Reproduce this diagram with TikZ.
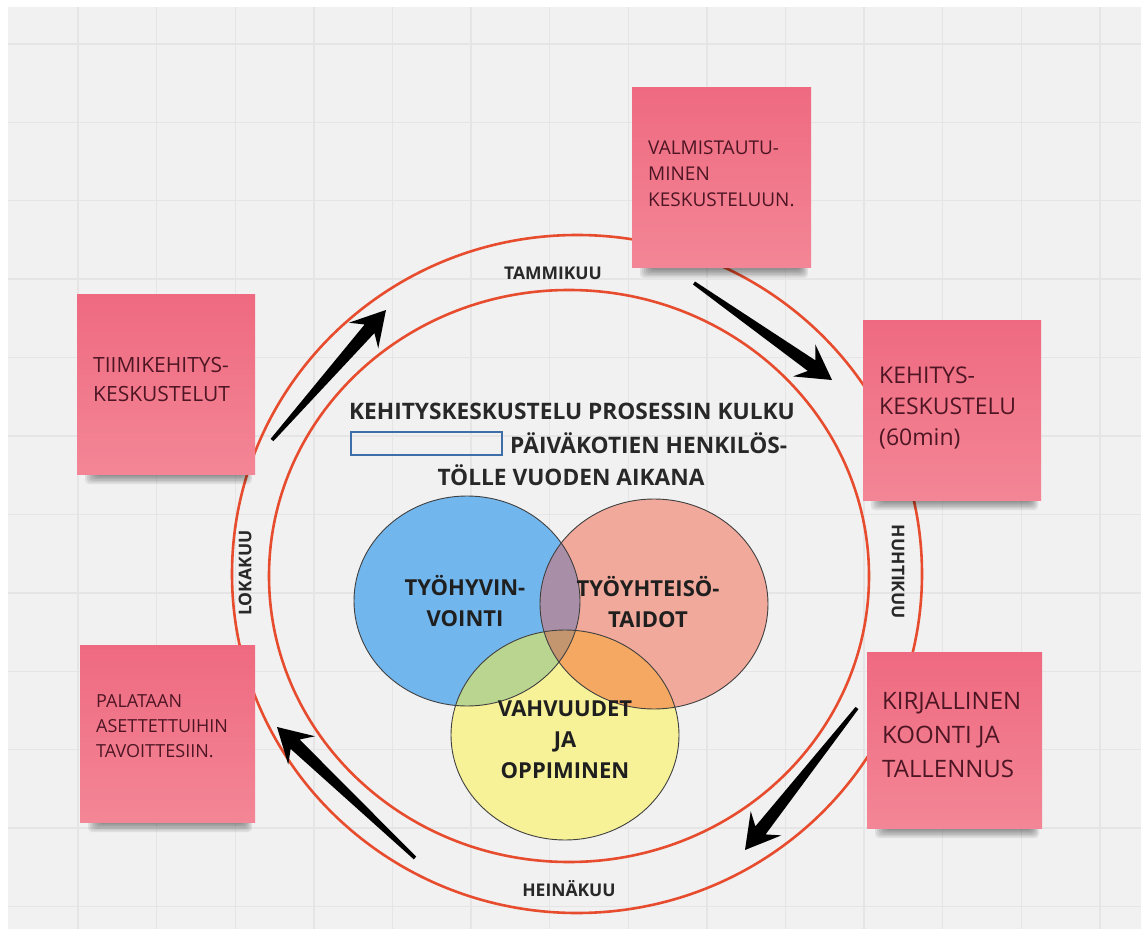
\documentclass[tikz,border=0pt]{standalone}
\usepackage{fontspec}
\setmainfont{Open Sans}
\usetikzlibrary{calc}
\definecolor{bgc}{RGB}{241,241,241}
\definecolor{gridc}{RGB}{229,229,229}
\definecolor{ringc}{RGB}{230,76,45}
\definecolor{notetop}{RGB}{239,106,128}
\definecolor{notebot}{RGB}{243,134,150}
\definecolor{notetext}{RGB}{78,22,36}
\definecolor{titletext}{RGB}{40,40,40}
\definecolor{vblue}{RGB}{114,182,238}
\definecolor{vred}{RGB}{240,169,155}
\definecolor{vyellow}{RGB}{247,241,151}
\definecolor{vbr}{RGB}{169,142,168}
\definecolor{vby}{RGB}{185,213,144}
\definecolor{vry}{RGB}{244,168,98}
\definecolor{vall}{RGB}{196,150,112}
\definecolor{boxblue}{RGB}{62,110,168}
\newcommand\notepad[5]{%
  \foreach \i in {0,...,5}{\fill[black,opacity=0.08,rounded corners=4pt] (#2+18-2*\i, #5-8) rectangle (#4-10+1.4*\i, #5+2+1.6*\i);}
  \node[notebox, minimum width={(#4-#2)*1pt}, minimum height={(#5-#3)*1pt}] (#1) at ({(#2+#4)/2},{(#3+#5)/2}) {};}
\newcommand\fatarrow[3]{% name, tail, tip
  \coordinate (#1j) at ($(#3)!25pt!(#2)$);
  \coordinate (#1b) at ($(#3)!34pt!(#2)$);
  \fill[black] ($(#2)!1.8pt!90:(#3)$) -- ($(#1j)!6.5pt!90:(#3)$) -- ($(#1b)!19.5pt!90:(#3)$) -- (#3)
    -- ($(#1b)!19.5pt!-90:(#3)$) -- ($(#1j)!6.5pt!-90:(#3)$) -- ($(#2)!1.8pt!-90:(#3)$) -- cycle;}
\begin{document}
\begin{tikzpicture}[x=1pt,y=-1pt,
  notebox/.style={rectangle, top color=notetop, bottom color=notebot, draw=none, inner sep=0},
  notetxt/.style={anchor=north west, align=left, inner sep=0, text=notetext},
  ringline/.style={draw=ringc, line width=2.6pt},
  ringlbl/.style={font=\bfseries\fontsize{17.5}{19}\selectfont, text=titletext, inner sep=0},
  venntxt/.style={font=\bfseries\fontsize{22}{31}\selectfont, align=center, text=black!88, inner sep=0},
  titletxt/.style={font=\bfseries\fontsize{22.7}{32}\selectfont, text=titletext, inner sep=0},
  vennline/.style={draw=black!75, line width=0.9pt}
]
\useasboundingbox (0,0) rectangle (1141,933);
\fill[white] (0,0) rectangle (1141,933);
\fill[bgc] (8,7) rectangle (1141,929);
\foreach \x in {78,156.6,...,1141} \draw[gridc, line width=1.4pt] (\x,7) -- (\x,929);
\foreach \y in {44,122.4,...,929} \draw[gridc, line width=1.4pt] (8,\y) -- (1141,\y);

% rings
\draw[ringline] (577,574) ellipse [x radius=345pt, y radius=339pt];
\draw[ringline] (569,576) ellipse [x radius=300pt, y radius=286pt];

% ring labels
\node[ringlbl] (tam) at (553,273) {TAMMIKUU};
\node[ringlbl] (hei) at (569,889) {HEINÄKUU};
\node[ringlbl, rotate=90] (lok) at (245,573) {LOKAKUU};
\node[ringlbl, rotate=-90] (huh) at (898,572) {HUHTIKUU};

% sticky notes
\notepad{n1}{632}{88}{811}{268}
\notepad{n2}{77}{295}{255}{474}
\notepad{n3}{863}{321}{1041}{500}
\notepad{n4}{80}{645}{255}{822}
\notepad{n5}{867}{652}{1042}{828}

\node[notetxt, font=\fontsize{19}{26}\selectfont] (t1) at (648,141) {VALMISTAUTU-\\MINEN\\KESKUSTELUUN.};
\node[notetxt, font=\fontsize{21}{29}\selectfont] (t2) at (93,357) {TIIMIKEHITYS-\\KESKUSTELUT};
\node[notetxt, font=\fontsize{23}{31}\selectfont] (t3) at (879,367) {KEHITYS-\\KESKUSTELU\\(60min)};
\node[notetxt, font=\fontsize{18}{25}\selectfont] (t4) at (96,694) {PALATAAN\\ASETTETTUIHIN\\TAVOITTESIIN.};
\node[notetxt, font=\fontsize{24}{34}\selectfont] (t5) at (882,692) {KIRJALLINEN\\KOONTI JA\\TALLENNUS};

% title
\node[titletxt] (ti1) at (572,411) {KEHITYSKESKUSTELU PROSESSIN KULKU};
\node[draw=boxblue, line width=1.3pt, minimum width=151pt, minimum height=23pt, inner sep=0] (blank) at (426.5,443.5) {};
\node[titletxt, anchor=west] (ti2) at (510,443) {PÄIVÄKOTIEN HENKILÖS-};
\node[titletxt] (ti3) at (571,475) {TÖLLE VUODEN AIKANA};

% venn
\coordinate (cB) at (467,601);
\coordinate (cR) at (654,604);
\coordinate (cY) at (565,735);
\fill[vblue] (cB) ellipse [x radius=113pt, y radius=105pt];
\fill[vred] (cR) ellipse [x radius=114pt, y radius=105pt];
\fill[vyellow] (cY) ellipse [x radius=114pt, y radius=105pt];
\begin{scope}
  \clip (cB) ellipse [x radius=113pt, y radius=105pt];
  \fill[vbr] (cR) ellipse [x radius=114pt, y radius=105pt];
  \fill[vby] (cY) ellipse [x radius=114pt, y radius=105pt];
\end{scope}
\begin{scope}
  \clip (cR) ellipse [x radius=114pt, y radius=105pt];
  \fill[vry] (cY) ellipse [x radius=114pt, y radius=105pt];
  \clip (cB) ellipse [x radius=113pt, y radius=105pt];
  \fill[vall] (cY) ellipse [x radius=114pt, y radius=105pt];
\end{scope}
\draw[vennline] (cB) ellipse [x radius=113pt, y radius=105pt];
\draw[vennline] (cR) ellipse [x radius=114pt, y radius=105pt];
\draw[vennline] (cY) ellipse [x radius=114pt, y radius=105pt];
\node[venntxt] (v1) at (465,601) {TYÖHYVIN-\\VOINTI};
\node[venntxt] (v2) at (648,602) {TYÖYHTEISÖ-\\TAIDOT};
\node[venntxt] (v3) at (565,740) {VAHVUUDET\\JA\\OPPIMINEN};

% arrows
\coordinate (a1s) at (694,283); \coordinate (a1e) at (832,380);
\coordinate (a2s) at (272,440); \coordinate (a2e) at (386,310);
\coordinate (a3s) at (857,708); \coordinate (a3e) at (745,850);
\coordinate (a4s) at (415,858); \coordinate (a4e) at (277,727);
\fatarrow{a1}{a1s}{a1e}
\fatarrow{a2}{a2s}{a2e}
\fatarrow{a3}{a3s}{a3e}
\fatarrow{a4}{a4s}{a4e}
\end{tikzpicture}
\end{document}
